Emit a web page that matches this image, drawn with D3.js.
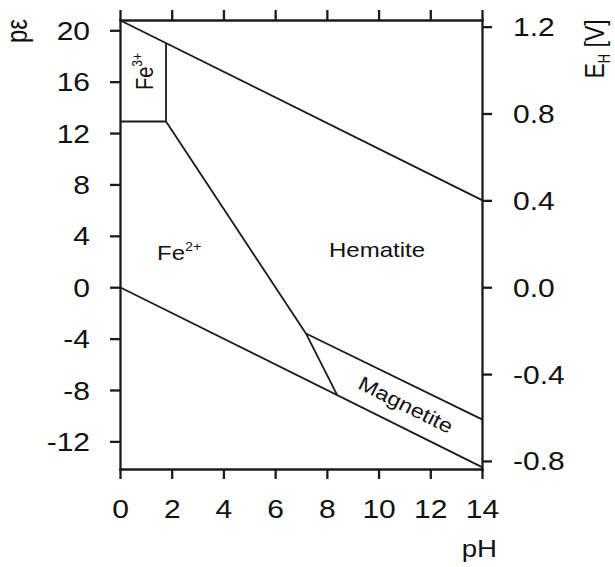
<!DOCTYPE html>
<html>
<head>
<meta charset="utf-8">
<script src="https://cdn.jsdelivr.net/npm/d3@7"></script>
<style>
  body { margin: 0; background: #fff; }
  text { font-family: "Liberation Sans", Arial, sans-serif; fill: #111; }
</style>
</head>
<body>
<div id="holder"></div>
<script>
// tick values
var pHTicks = [0, 2, 4, 6, 8, 10, 12, 14];
var peTicks = [20, 16, 12, 8, 4, 0, -4, -8, -12];
var ehTicks = [1.2, 0.8, 0.4, 0.0, -0.4, -0.8];

// stability field boundaries, [pH, pe]
var o2Line = [[0, 20.78], [14, 6.78]];
var h2Line = [[0, 0], [14, -14]];
var fe3Fe2 = [[0, 12.9], [1.78, 12.9]];
var fe3Hem = [[1.78, 12.9], [1.78, 19.0]];
var fe2Hem = [[1.78, 12.9], [7.19, -3.6]];
var fe2Mag = [[7.19, -3.6], [8.4, -8.4]];
var hemMag = [[7.19, -3.6], [14, -10.29]];
var boundaries = [o2Line, h2Line, fe3Fe2, fe3Hem, fe2Hem, fe2Mag, hemMag];

var peDomain = [-14.15, 20.8];
var ehFactor = 0.05916; // V per pe unit

var fullWidth = 615, fullHeight = 567;
var plot = {left: 120, right: 482, top: 20, bottom: 469};
var stretch = 1.2; // text in the original is a bit wide

var svg = d3.select('#holder').append('svg')
  .attr('width', fullWidth)
  .attr('height', fullHeight);

var xScale = d3.scaleLinear().domain([0, 14]).range([plot.left, plot.right]);
var yScale = d3.scaleLinear().domain(peDomain).range([plot.bottom, plot.top]);
var ehScale = d3.scaleLinear()
  .domain([peDomain[0] * ehFactor, peDomain[1] * ehFactor])
  .range([plot.bottom, plot.top]);

// plain hyphen minus like the original
function hyphen(f) {
  return function(d) { return f(d).replace('\u2212', '-'); };
}

function styleAxis(g) {
  g.selectAll('.domain').attr('stroke', '#1d1a1a').attr('stroke-width', 2.3).attr('stroke-linecap', 'square');
  g.selectAll('.tick line').attr('stroke', '#1d1a1a').attr('stroke-width', 2.3);
  g.selectAll('.tick text').style('font-size', '25px').attr('fill', '#111');
}

// bottom
var gx = svg.append('g')
  .attr('transform', 'translate(0,' + plot.bottom + ')')
  .call(d3.axisBottom(xScale).tickValues(pHTicks).tickSize(10).tickSizeOuter(0).tickPadding(21));
styleAxis(gx);
gx.selectAll('.tick text').attr('transform', 'scale(' + stretch + ',1)');

// top, ticks only
var gt = svg.append('g')
  .attr('transform', 'translate(0,' + plot.top + ')')
  .call(d3.axisTop(xScale).tickValues(pHTicks).tickSize(10).tickSizeOuter(0).tickFormat(''));
styleAxis(gt);

// left pe
var gy = svg.append('g')
  .attr('transform', 'translate(' + plot.left + ',0)')
  .call(d3.axisLeft(yScale).tickValues(peTicks).tickSize(10).tickSizeOuter(0).tickFormat(hyphen(d3.format('d'))));
styleAxis(gy);
gy.selectAll('.tick text')
  .attr('x', -30 / stretch)
  .attr('dy', '0.36em')
  .attr('transform', 'scale(' + stretch + ',1)');

// right EH
var gr = svg.append('g')
  .attr('transform', 'translate(' + plot.right + ',0)')
  .call(d3.axisRight(ehScale).tickValues(ehTicks).tickSize(10).tickSizeOuter(0).tickFormat(hyphen(d3.format('.1f'))));
styleAxis(gr);
gr.selectAll('.tick text')
  .attr('x', 31 / stretch)
  .attr('dy', '0.36em')
  .attr('transform', 'scale(' + stretch + ',1)');

// boundaries
var line = d3.line()
  .x(function(d) { return xScale(d[0]); })
  .y(function(d) { return yScale(d[1]); });

svg.append('g').selectAll('path')
  .data(boundaries)
  .enter().append('path')
  .attr('d', line)
  .attr('fill', 'none')
  .attr('stroke', '#1d1a1a')
  .attr('stroke-width', 1.8);

// axis titles
svg.append('text')
  .attr('transform', 'translate(27,31) scale(' + stretch + ',1) rotate(-90)')
  .attr('text-anchor', 'middle')
  .style('font-size', '24px')
  .text('pε');

var eh = svg.append('text')
  .attr('transform', 'translate(604,49) scale(' + stretch + ',1) rotate(-90)')
  .attr('text-anchor', 'middle')
  .style('font-size', '23px');
eh.append('tspan').text('E');
eh.append('tspan').attr('dy', 5).style('font-size', '13px').text('H');
eh.append('tspan').attr('dy', -5).text(' [V]');

svg.append('text')
  .attr('transform', 'translate(497,557) scale(' + stretch + ',1)')
  .attr('text-anchor', 'end')
  .style('font-size', '23px')
  .text('pH');

// field labels
var fe3 = svg.append('text')
  .attr('transform', 'translate(153,90) scale(' + stretch + ',1) rotate(-90)')
  .style('font-size', '20px');
fe3.append('tspan').text('Fe');
fe3.append('tspan').attr('dy', -9).style('font-size', '12px').text('3+');

var fe2 = svg.append('text')
  .attr('transform', 'translate(157,260) scale(' + stretch + ',1)')
  .style('font-size', '20px');
fe2.append('tspan').text('Fe');
fe2.append('tspan').attr('dy', -9).style('font-size', '12px').text('2+');

svg.append('text')
  .attr('transform', 'translate(329,257) scale(' + stretch + ',1)')
  .style('font-size', '20px')
  .text('Hematite');

svg.append('text')
  .attr('transform', 'translate(' + xScale(11.05) + ',' + yScale(-9.15) + ') rotate(26.5) scale(1.17,1)')
  .attr('text-anchor', 'middle')
  .attr('dy', '0.35em')
  .style('font-size', '20px')
  .text('Magnetite');
</script>
</body>
</html>
